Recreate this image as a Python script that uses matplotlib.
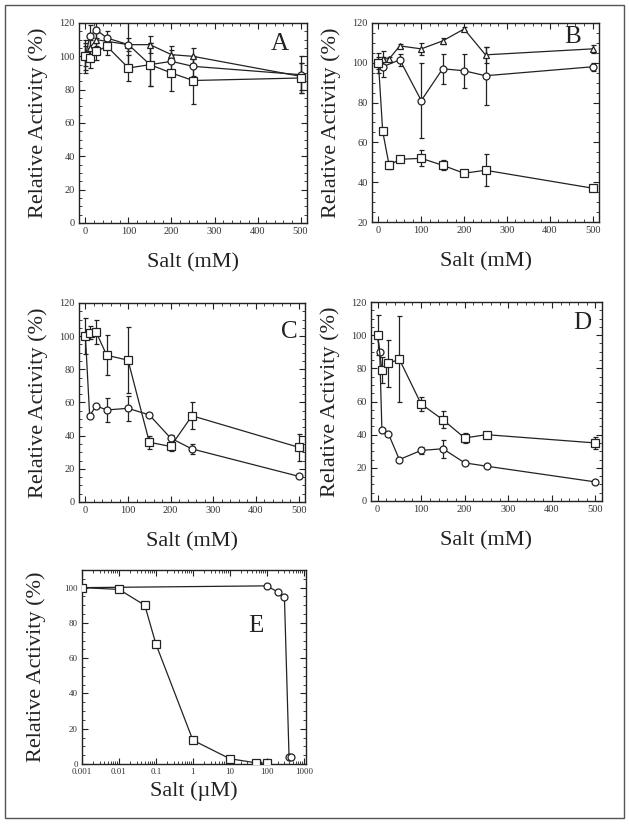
import numpy as np
import matplotlib
matplotlib.use('Agg')
from matplotlib import pyplot as plt
from matplotlib.patches import Rectangle
from matplotlib.ticker import MultipleLocator, LogLocator, NullFormatter

plt.rcParams['font.family'] = ['Liberation Serif', 'DejaVu Serif']

# panel A
a_x = [0, 10, 25, 50, 100, 150, 200, 250, 500]
a_sq = [100, 99, 103, 106, 93, 95, 90, 85.5, 87]
a_sq_err = [8, 6, 5, 5, 8, 13, 11, 14, 9]
a_ci = [100, 112, 116, 111, 107, 95, 97, 94, 89]
a_ci_err = [6, 7, 5, 4, 14, 13, 7, 6, 11]
a_tr = [100, 105, 110, 109, 107, 107, 101, 100, 88]
a_tr_err = [10, 5, 4, 3, 4, 5, 5, 5, 8]

# panel B
b_x = [0, 10, 25, 50, 100, 150, 200, 250, 500]
b_tr = [100, 102, 102, 108.5, 107, 111, 117, 104, 107]
b_tr_err = [3, 4, 1, 1, 3, 1.5, 1, 4, 2]
b_ci_x = [0, 10, 50, 100, 150, 200, 250, 500]
b_ci = [100, 98, 101.5, 81, 97, 96, 93.5, 98]
b_ci_err = [5, 5, 3, 19, 7.5, 8.5, 14.5, 2]
b_sq = [100, 65.5, 48.5, 51.5, 52, 48.5, 44.5, 46, 37]
b_sq_err = [0, 1, 2, 1, 4, 2.5, 0.5, 8, 0.5]

# panel C
c_x = [0, 10, 25, 50, 100, 150, 200, 250, 500]
c_sq = [100, 102, 102.5, 88.5, 85.5, 36, 33.5, 52, 33]
c_sq_err = [11, 4, 7, 12, 20, 4, 3, 8, 8]
c_ci = [100, 52, 58, 55.5, 56.5, 52.5, 38.5, 32, 15.5]
c_ci_err = [0, 1, 1, 7.5, 7.5, 1, 2, 3, 1]

# panel D
d_sq_x = [0, 10, 25, 50, 100, 150, 200, 250, 500]
d_sq = [100, 79, 83, 85.5, 58.5, 49, 38, 40, 35]
d_sq_err = [12, 8, 14, 26, 4, 5, 3, 1, 3.5]
d_ci_x = [0, 5, 10, 25, 50, 100, 150, 200, 250, 500]
d_ci = [100, 90, 43, 40.5, 25, 30.5, 31.5, 23, 21, 11.5]
d_ci_err = [0, 0, 1, 0.5, 0.5, 2, 5.5, 1, 0.5, 0.5]

# panel E (log scale, uM)
e_sq_x = [0.001, 0.01, 0.05, 0.1, 1, 10, 50, 100]
e_sq = [100, 99, 90, 68, 13.5, 3, 0.7, 0.4]
e_ci_x = [0.001, 100, 200, 300, 400, 450]
e_ci = [100, 101, 97.5, 94.5, 4, 4]

INK = '#222222'
W, H = 629, 824


def frac(left, top, right, bottom):
    return [left / W, 1 - bottom / H, (right - left) / W, (bottom - top) / H]


def series(ax, x, y, err, marker, ms):
    ax.errorbar(x, y, yerr=err, color=INK, lw=0.9, elinewidth=0.9, capsize=1.8,
                capthick=0.9, marker=marker, ms=ms, mfc='white', mec=INK, mew=0.9,
                zorder=3)


def style(ax, letter, lpos, xlabel='Salt (mM)', tsize=7.5, ypad=8):
    ax.tick_params(which='both', direction='in', top=True, right=True,
                   labelsize=tsize, labelcolor='#333333', color=INK, pad=3)
    ax.tick_params(which='major', length=4, width=0.8)
    ax.tick_params(which='minor', length=2, width=0.6)
    for s in ax.spines.values():
        s.set_linewidth(1.0)
        s.set_color(INK)
    ax.set_ylabel('Relative Activity (%)', fontsize=16, color=INK, labelpad=ypad)
    ax.set_xlabel(xlabel, fontsize=16, color=INK, labelpad=12)
    ax.text(lpos[0], lpos[1], letter, transform=ax.transAxes, fontsize=18,
            color=INK, ha='center', va='center')


def linear_axes(ax, ymin):
    ax.set_xlim(-15, 515)
    ax.set_ylim(ymin, 120)
    ax.xaxis.set_major_locator(MultipleLocator(100))
    ax.xaxis.set_minor_locator(MultipleLocator(20))
    ax.yaxis.set_major_locator(MultipleLocator(20))
    ax.yaxis.set_minor_locator(MultipleLocator(5))


fig = plt.figure(figsize=(W / 100, H / 100), dpi=100)
fig.patches.append(Rectangle((5 / W, 1 - 818 / H), 619 / W, 813 / H,
                             transform=fig.transFigure, fill=False,
                             ec='#555555', lw=1.0))

axA = fig.add_axes(frac(79, 23, 307, 223))
linear_axes(axA, 0)
series(axA, a_x, a_tr, a_tr_err, '^', 4)
series(axA, a_x, a_ci, a_ci_err, 'o', 5)
series(axA, a_x, a_sq, a_sq_err, 's', 5.5)
style(axA, 'A', (0.88, 0.895))

axB = fig.add_axes(frac(372, 23, 599, 222))
linear_axes(axB, 20)
series(axB, b_x, b_tr, b_tr_err, '^', 4)
series(axB, b_ci_x, b_ci, b_ci_err, 'o', 5)
series(axB, b_x, b_sq, b_sq_err, 's', 5.5)
style(axB, 'B', (0.885, 0.93))

axC = fig.add_axes(frac(79, 303, 305, 502))
linear_axes(axC, 0)
series(axC, c_x, c_ci, c_ci_err, 'o', 5)
series(axC, c_x, c_sq, c_sq_err, 's', 5.5)
style(axC, 'C', (0.93, 0.855))

axD = fig.add_axes(frac(371, 302, 602, 501))
linear_axes(axD, 0)
series(axD, d_ci_x, d_ci, d_ci_err, 'o', 5)
series(axD, d_sq_x, d_sq, d_sq_err, 's', 5.5)
style(axD, 'D', (0.913, 0.894))

axE = fig.add_axes(frac(82, 570, 306, 764))
axE.set_xscale('log')
axE.set_xlim(0.001, 1150)
axE.set_ylim(0, 110)
axE.xaxis.set_minor_locator(LogLocator(base=10, subs=np.arange(2, 10), numticks=10))
axE.xaxis.set_minor_formatter(NullFormatter())
axE.set_xticks([0.001, 0.01, 0.1, 1, 10, 100, 1000])
axE.set_xticklabels(['0.001', '0.01', '0.1', '1', '10', '100', '1000'])
axE.yaxis.set_major_locator(MultipleLocator(20))
axE.yaxis.set_minor_locator(MultipleLocator(5))
series(axE, e_ci_x, e_ci, None, 'o', 5)
series(axE, e_sq_x, e_sq, None, 's', 5.5)
style(axE, 'E', (0.777, 0.71), xlabel='Salt (\u00b5M)', tsize=6.5, ypad=13)
axE.xaxis.labelpad = 4

fig.savefig('out.png', dpi=100)
